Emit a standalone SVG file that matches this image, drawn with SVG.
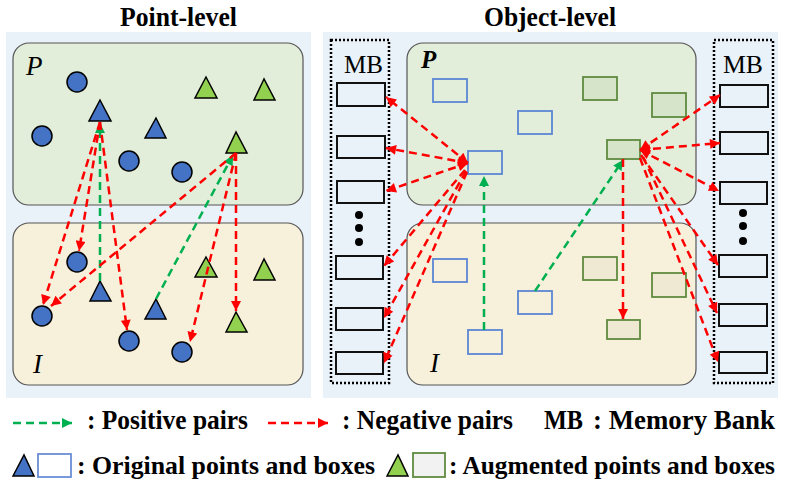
<svg xmlns="http://www.w3.org/2000/svg" width="789" height="485" viewBox="0 0 789 485">
<defs>
<marker id="ar" viewBox="0 0 10 10" refX="10" refY="5" markerWidth="13" markerHeight="10" markerUnits="userSpaceOnUse" orient="auto-start-reverse"><path d="M0,0 L10,5 L0,10 z" fill="#ff0000"/></marker>
<marker id="ag" viewBox="0 0 10 10" refX="10" refY="5" markerWidth="13" markerHeight="10" markerUnits="userSpaceOnUse" orient="auto-start-reverse"><path d="M0,0 L10,5 L0,10 z" fill="#00b050"/></marker>
</defs>
<style>
.bg{fill:#e9f1f9}
.pbox{fill:#e2eed9;stroke:#555;stroke-width:1.2}
.ibox{fill:#f7f1dc;stroke:#555;stroke-width:1.2}
.cir{fill:#4472c4;stroke:#000;stroke-width:1.5}
.bt{fill:#4472c4;stroke:#000;stroke-width:1.5}
.gt{fill:#92d050;stroke:#000;stroke-width:1.5}
.brp{fill:none;stroke:#5b86d3;stroke-width:1.8}
.grp{fill:#d6e5c9;stroke:#5f8a3f;stroke-width:1.8}
.gri{fill:#efe9d3;stroke:#5f8a3f;stroke-width:1.8}
.mbx{fill:none;stroke:#000;stroke-width:2.5;stroke-dasharray:2 2}
.mb{fill:#e9f1f9;stroke:#111;stroke-width:2}
.neg{stroke:#ff0000;stroke-width:2.5;stroke-dasharray:8 5;fill:none}
.pos{stroke:#00b050;stroke-width:2.5;stroke-dasharray:8 5;fill:none}
.t{font-family:"Liberation Serif","Times New Roman",serif;font-weight:700;fill:#000}
.r{font-family:"Liberation Serif","Times New Roman",serif;fill:#000}
</style>

<!-- titles -->
<text class="t" x="120" y="26" font-size="27" textLength="117" lengthAdjust="spacingAndGlyphs">Point-level</text>
<text class="t" x="484" y="26" font-size="27" textLength="132" lengthAdjust="spacingAndGlyphs">Object-level</text>

<!-- Point-level panel -->
<g id="point-panel">
<rect class="bg" x="6" y="32" width="305" height="366"/>
<rect id="pl-P" class="pbox" x="13" y="43" width="290" height="162" rx="16"/>
<rect id="pl-I" class="ibox" x="13" y="223" width="290" height="162" rx="16"/>
<text class="r" x="26" y="75" font-size="27" font-style="italic">P</text>
<text class="r" x="33" y="373" font-size="27" font-style="italic">I</text>
</g>
<g id="pl-points-P">
<circle class="cir" cx="77" cy="82" r="10"/>
<circle class="cir" cx="42" cy="136" r="10"/>
<circle class="cir" cx="129" cy="161" r="10"/>
<circle class="cir" cx="182" cy="172" r="10"/>
<polygon class="bt" points="100,100 89,121 111,121"/>
<polygon class="bt" points="156,118 145,138 166,138"/>
<polygon class="gt" points="206,77 195,98 217,98"/>
<polygon class="gt" points="264,79 254,100 275,100"/>
<polygon class="gt" points="236,132 226,153 247,153"/>
</g>
<g id="pl-points-I">
<circle class="cir" cx="77" cy="262" r="10"/>
<circle class="cir" cx="42" cy="316" r="10"/>
<circle class="cir" cx="129" cy="341" r="10"/>
<circle class="cir" cx="182" cy="352" r="10"/>
<polygon class="bt" points="100,281 90,301 111,301"/>
<polygon class="bt" points="156,299 145,319 166,319"/>
<polygon class="gt" points="206,257 195,277 217,277"/>
<polygon class="gt" points="264,259 254,280 275,280"/>
<polygon class="gt" points="236,312 226,332 247,332"/>
</g>

<!-- Object-level panel -->
<g id="object-panel">
<rect class="bg" x="323" y="32" width="455" height="366"/>
<rect id="ol-P" class="pbox" x="407" y="43" width="289" height="162" rx="16"/>
<rect id="ol-I" class="ibox" x="407" y="223" width="289" height="162" rx="16"/>
<text class="r" x="421" y="68" font-size="25" font-style="italic" font-weight="bold">P</text>
<text class="r" x="430" y="372" font-size="27" font-style="italic">I</text>
</g>
<g id="mb-left">
<rect class="mbx" x="331" y="40" width="58" height="343"/>
<text class="r" x="344" y="73" font-size="26" textLength="39" lengthAdjust="spacingAndGlyphs">MB</text>
<rect class="mb" x="337" y="83" width="48" height="23"/>
<rect class="mb" x="337" y="136" width="48" height="22"/>
<rect class="mb" x="337" y="181" width="47" height="22"/>
<circle cx="359" cy="215" r="4"/><circle cx="359" cy="228" r="4"/><circle cx="359" cy="242" r="4"/>
<rect class="mb" x="336" y="256" width="47" height="23"/>
<rect class="mb" x="336" y="308" width="47" height="22"/>
<rect class="mb" x="336" y="352" width="47" height="22"/>
</g>
<g id="mb-right">
<rect class="mbx" x="714" y="40" width="59" height="343"/>
<text class="r" x="723" y="73" font-size="26" textLength="40" lengthAdjust="spacingAndGlyphs">MB</text>
<rect class="mb" x="720" y="85" width="48" height="22"/>
<rect class="mb" x="720" y="132" width="48" height="22"/>
<rect class="mb" x="720" y="182" width="47" height="22"/>
<circle cx="743" cy="213" r="4"/><circle cx="743" cy="226" r="4"/><circle cx="743" cy="241" r="4"/>
<rect class="mb" x="719" y="255" width="48" height="22"/>
<rect class="mb" x="719" y="304" width="48" height="22"/>
<rect class="mb" x="719" y="352" width="48" height="21"/>
</g>
<g id="ol-boxes-P">
<rect class="brp" x="433" y="79" width="34" height="23"/>
<rect class="brp" x="518" y="111" width="34" height="23"/>
<rect class="brp" x="468" y="151" width="34" height="23"/>
<rect class="grp" x="583" y="77" width="34" height="23"/>
<rect class="grp" x="652" y="93" width="34" height="24"/>
<rect class="grp" x="607" y="140" width="33" height="19"/>
</g>
<g id="ol-boxes-I">
<rect class="brp" x="433" y="259" width="34" height="23"/>
<rect class="brp" x="518" y="291" width="34" height="23"/>
<rect class="brp" x="468" y="330" width="34" height="24"/>
<rect class="gri" x="583" y="257" width="34" height="23"/>
<rect class="gri" x="652" y="273" width="34" height="24"/>
<rect class="gri" x="607" y="320" width="33" height="19"/>
</g>

<!-- connectors -->
<g id="connectors">
<line class="pos" x1="100" y1="281" x2="100" y2="123" marker-end="url(#ag)"/>
<line class="neg" x1="100" y1="122" x2="79" y2="251" marker-end="url(#ar)"/>
<line class="neg" x1="100" y1="122" x2="43" y2="305" marker-end="url(#ar)"/>
<line class="neg" x1="100" y1="122" x2="127" y2="330" marker-end="url(#ar)"/>
<line class="pos" x1="156" y1="299" x2="233" y2="155" marker-end="url(#ag)"/>
<line class="neg" x1="236" y1="153" x2="51" y2="306" marker-end="url(#ar)"/>
<line class="neg" x1="236" y1="153" x2="190" y2="342" marker-end="url(#ar)"/>
<line class="neg" x1="236" y1="153" x2="236" y2="311" marker-end="url(#ar)"/>

<line class="pos" x1="484" y1="330" x2="484" y2="176" marker-end="url(#ag)"/>
<line class="pos" x1="535" y1="291" x2="623" y2="160" marker-end="url(#ag)"/>
<line class="neg" x1="468" y1="163" x2="386" y2="97" marker-start="url(#ar)" marker-end="url(#ar)"/>
<line class="neg" x1="468" y1="163" x2="386" y2="148" marker-start="url(#ar)" marker-end="url(#ar)"/>
<line class="neg" x1="468" y1="163" x2="386" y2="191" marker-start="url(#ar)" marker-end="url(#ar)"/>
<line class="neg" x1="465" y1="170" x2="384" y2="266" marker-end="url(#ar)"/>
<line class="neg" x1="466" y1="171" x2="384" y2="318" marker-end="url(#ar)"/>
<line class="neg" x1="467" y1="172" x2="384" y2="363" marker-end="url(#ar)"/>
<line class="neg" x1="640" y1="150" x2="720" y2="95" marker-start="url(#ar)" marker-end="url(#ar)"/>
<line class="neg" x1="640" y1="150" x2="720" y2="143" marker-start="url(#ar)" marker-end="url(#ar)"/>
<line class="neg" x1="640" y1="150" x2="719" y2="191" marker-start="url(#ar)" marker-end="url(#ar)"/>
<line class="neg" x1="641" y1="155" x2="718" y2="265" marker-end="url(#ar)"/>
<line class="neg" x1="643" y1="157" x2="717" y2="313" marker-end="url(#ar)"/>
<line class="neg" x1="640" y1="158" x2="718" y2="362" marker-end="url(#ar)"/>
<line class="neg" x1="623" y1="159" x2="623" y2="319" marker-end="url(#ar)"/>
</g>

<!-- legend -->
<g id="legend">
<line class="pos" x1="13" y1="423" x2="72" y2="423" stroke-dasharray="6 5" marker-end="url(#ag)"/>
<text class="t" x="87" y="429" font-size="27" textLength="161" lengthAdjust="spacingAndGlyphs">: Positive pairs</text>
<line class="neg" x1="268" y1="423" x2="328" y2="423" stroke-dasharray="6 5" marker-end="url(#ar)"/>
<text class="t" x="342" y="429" font-size="27" textLength="171" lengthAdjust="spacingAndGlyphs">: Negative pairs</text>
<text class="t" x="544" y="429" font-size="27" textLength="39" lengthAdjust="spacingAndGlyphs">MB</text>
<text class="t" x="593" y="429" font-size="27" textLength="182" lengthAdjust="spacingAndGlyphs">: Memory Bank</text>
<polygon class="bt" points="13,476 24,455 34,476"/>
<rect x="38" y="454" width="33" height="23" fill="#fff" stroke="#6a8fd6" stroke-width="1.8"/>
<text class="t" x="77" y="474" font-size="25" textLength="298" lengthAdjust="spacingAndGlyphs">: Original points and boxes</text>
<polygon class="gt" points="387,476 398,455 408,476"/>
<rect x="413" y="453" width="32" height="24" fill="#f2f2f2" stroke="#5f8a3f" stroke-width="1.8"/>
<text class="t" x="449" y="474" font-size="25" textLength="326" lengthAdjust="spacingAndGlyphs">: Augmented points and boxes</text>
</g>
</svg>
